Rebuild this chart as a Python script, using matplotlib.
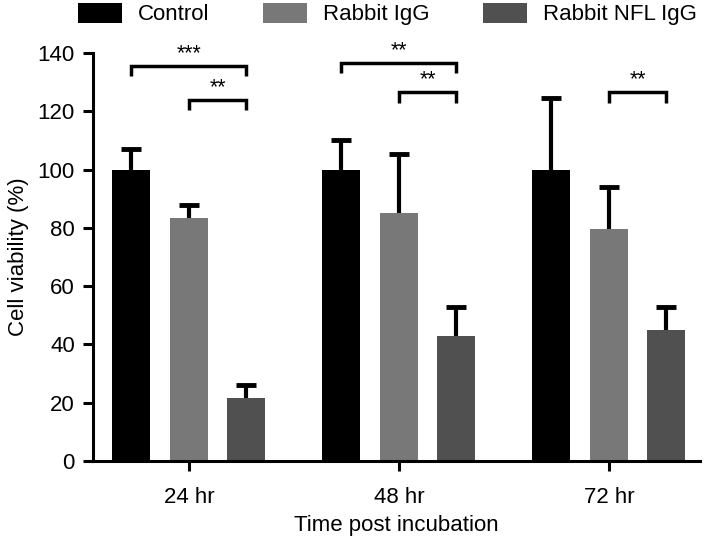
import matplotlib.pyplot as plt
import numpy as np

plt.rcParams['font.family'] = ['Liberation Sans', 'DejaVu Sans']

times = ["24 hr", "48 hr", "72 hr"]
groups = ["Control", "Rabbit IgG", "Rabbit NFL IgG"]
control = [100, 100, 100]
control_err = [7, 10, 24.5]
rabbit_igg = [83.5, 85, 79.5]
rabbit_igg_err = [4.5, 20.5, 14.5]
rabbit_nfl = [21.5, 43, 45]
rabbit_nfl_err = [4.5, 10, 8]

# significance: (time index, bar a, bar b, bracket height, label)
sig = [
    (0, 0, 2, 135.5, "***"),
    (0, 1, 2, 124, "**"),
    (1, 0, 2, 136.5, "**"),
    (1, 1, 2, 126.5, "**"),
    (2, 1, 2, 126.5, "**"),
]

colors = ["#000000", "#787878", "#505050"]

fig = plt.figure(figsize=(7.09, 5.39), dpi=100)
ax = fig.add_axes([0.131, 0.1447, 0.856, 0.757])

x = np.arange(len(times))
offs = [-0.274, 0.0, 0.274]
width = 0.18
series = [(control, control_err), (rabbit_igg, rabbit_igg_err), (rabbit_nfl, rabbit_nfl_err)]
for k, (vals, errs) in enumerate(series):
    ax.bar(x + offs[k], vals, width, color=colors[k], label=groups[k], zorder=2)
    eb = ax.errorbar(x + offs[k], vals, yerr=[np.zeros(len(errs)), errs], fmt='none',
                     ecolor='black', elinewidth=3, capsize=7.5, capthick=3.5, zorder=1)
    eb[1][0].set_visible(False)  # no cap at the bar top

drop = 3.5
for t, a, b, h, lab in sig:
    xa, xb = t + offs[a], t + offs[b]
    ax.plot([xa, xa, xb, xb], [h - drop, h, h, h - drop], color='black', lw=2.5,
            solid_capstyle='butt', solid_joinstyle='miter', clip_on=False)
    ax.text((xa + xb) / 2, h + 0.6, lab, ha='center', va='bottom', fontsize=15.5)

ax.set_xlim(-0.457, 2.433)
ax.set_ylim(0, 140)
ax.set_yticks(range(0, 141, 20))
ax.set_xticks(x)
ax.set_xticklabels(times)
ax.tick_params(axis='both', labelsize=16, width=2.2, length=7, direction='out', pad=6)
ax.tick_params(axis='x', pad=12)
for s in ['top', 'right']:
    ax.spines[s].set_visible(False)
for s in ['left', 'bottom']:
    ax.spines[s].set_linewidth(2.2)
ax.set_ylabel("Cell viability (%)", fontsize=16, labelpad=6)
ax.set_xlabel("Time post incubation", fontsize=16, labelpad=5)

fig.legend(loc='center', bbox_to_anchor=(0.546, 0.974), ncol=3, frameon=False,
           fontsize=16, handlelength=2.0, handleheight=1.0, handletextpad=0.7,
           columnspacing=2.4, borderaxespad=0, borderpad=0)

fig.savefig("out.png", dpi=100)
